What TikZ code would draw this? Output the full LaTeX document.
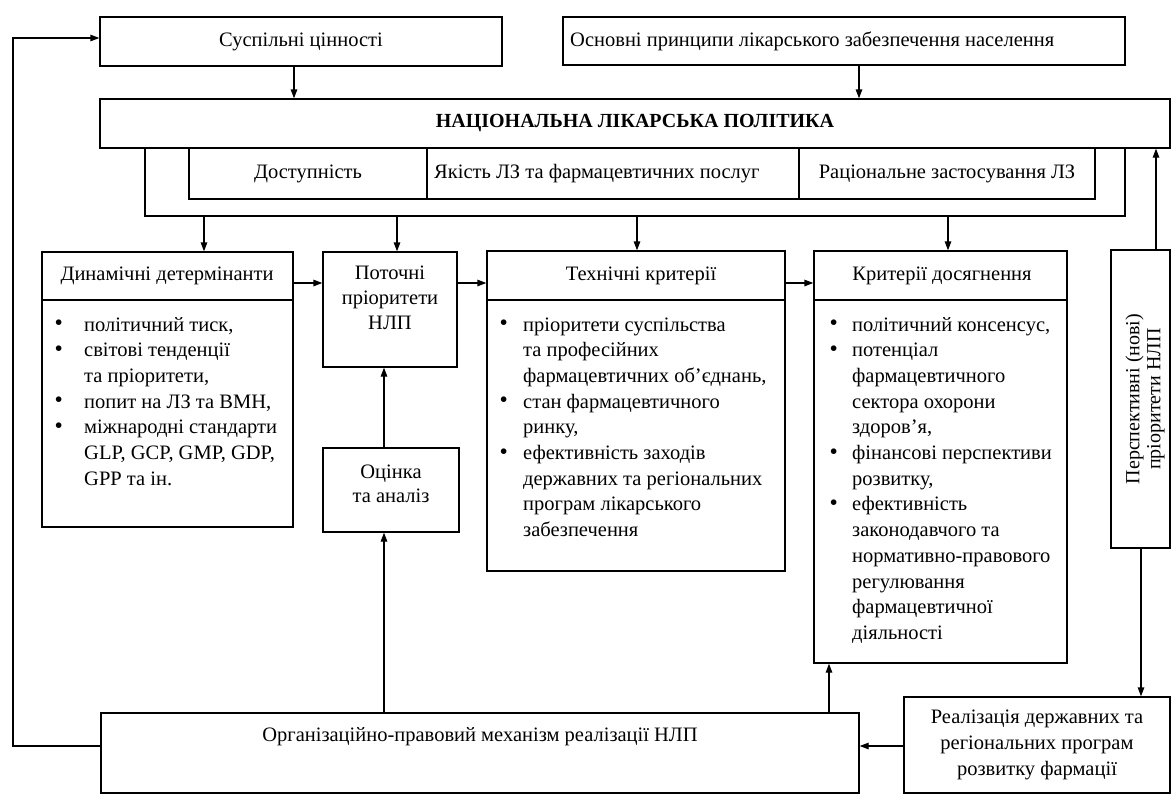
\documentclass[tikz,border=0pt]{standalone}
\usepackage{fontspec}
\setmainfont{Liberation Serif}
\usetikzlibrary{arrows.meta}
\newcommand{\bodyfs}{\fontsize{20.5pt}{25.7pt}\selectfont}
\newcommand{\bul}{\raisebox{0.5pt}{\scalebox{1.15}{\textbullet}}}
\begin{document}
\begin{tikzpicture}[x=1pt,y=-1pt,
  box/.style={draw, line width=1.3pt, rectangle, inner sep=0pt},
  ln/.style={line width=1.3pt},
  arr/.style={line width=1.3pt, -{Triangle[length=9pt,width=6.5pt]}},
  txt/.style={inner sep=0pt},
  font=\bodyfs]
\fill[white] (0,0) rectangle (1172,795);
\useasboundingbox (0,0) rectangle (1172,795);

% top boxes
\node[box, minimum width=402pt, minimum height=49pt] (sus) at (301,41.5) {Суспільні цінності};
\node[box, minimum width=562pt, minimum height=48pt] (osn) at (844,41) {};
\node[txt, anchor=west] (osnt) at (570,41) {Основні принципи лікарського забезпечення населення};
\node[box, minimum width=1070pt, minimum height=49pt] (nlp) at (635,123.5) {\fontsize{20pt}{24pt}\selectfont\bfseries НАЦІОНАЛЬНА ЛІКАРСЬКА ПОЛІТИКА};
\node[box, minimum width=238pt, minimum height=51pt] (dost) at (308,173.5) {Доступність};
\node[box, minimum width=372pt, minimum height=51pt] (yak) at (613,173.5) {};
\node[txt, anchor=west] (yakt) at (434,173.5) {Якість ЛЗ та фармацевтичних послуг};
\node[box, minimum width=296pt, minimum height=51pt] (rac) at (947,173.5) {Раціональне застосування ЛЗ};

% second row
\node[box, minimum width=251pt, minimum height=275pt] (dyn) at (167.5,389.5) {};
\node[box, minimum width=134pt, minimum height=115pt] (pot) at (390,309.5) {};
\node[box, minimum width=298pt, minimum height=320pt] (tech) at (636,411) {};
\node[box, minimum width=253pt, minimum height=412pt] (krit) at (940.5,457) {};
\node[box, minimum width=59pt, minimum height=298pt] (persp) at (1140.5,399) {};
\node[box, minimum width=136pt, minimum height=84pt] (ocin) at (391,490) {};

\coordinate (dv) at (0,300);
\draw[ln] (dyn.west |- dv) -- (dyn.east |- dv);
\draw[ln] (tech.west |- dv) -- (tech.east |- dv);
\draw[ln] (krit.west |- dv) -- (krit.east |- dv);

\node[txt] (dynh) at (167,276) {Динамічні детермінанти};
\node[txt] (techh) at (641,276) {Технічні критерії};
\node[txt] (krith) at (942,276) {Критерії досягнення};
\node[txt, align=center, font=\fontsize{20.5pt}{25pt}\selectfont] (pott) at (390,298) {Поточні\\пріоритети\\НЛП};
\node[txt, align=center, font=\fontsize{20.5pt}{24pt}\selectfont] (ocint) at (391,484) {Оцінка\\та аналіз};
\node[txt, rotate=90, align=center, font=\fontsize{20pt}{21pt}\selectfont] (perspt) at (1145,399) {Перспективні (нові)\\пріоритети НЛП};

\node[txt, anchor=base west] (dynl) at (54.5,331) {\begin{tabular}[t]{@{}p{29.5pt}@{}l@{}}
\bul & політичний тиск,\\
\bul & світові тенденції\\
 & та пріоритети,\\
\bul & попит на ЛЗ та ВМН,\\
\bul & міжнародні стандарти\\
 & GLP, GCP, GMP, GDP,\\
 & GPP та ін.
\end{tabular}};

\node[txt, anchor=base west] (techl) at (499.5,331) {\begin{tabular}[t]{@{}p{23.5pt}@{}l@{}}
\bul & пріоритети суспільства\\
 & та професійних\\
 & фармацевтичних об’єднань,\\
\bul & стан фармацевтичного\\
 & ринку,\\
\bul & ефективність заходів\\
 & державних та регіональних\\
 & програм лікарського\\
 & забезпечення
\end{tabular}};

\node[txt, anchor=base west] (kritl) at (829.5,331) {\begin{tabular}[t]{@{}p{22.5pt}@{}l@{}}
\bul & політичний консенсус,\\
\bul & потенціал\\
 & фармацевтичного\\
 & сектора охорони\\
 & здоров’я,\\
\bul & фінансові перспективи\\
 & розвитку,\\
\bul & ефективність\\
 & законодавчого та\\
 & нормативно-правового\\
 & регулювання\\
 & фармацевтичної\\
 & діяльності
\end{tabular}};

% bottom boxes
\node[box, minimum width=758pt, minimum height=80pt] (org) at (480,753) {};
\node[txt] (orgt) at (480,737) {Організаційно-правовий механізм реалізації НЛП};
\node[box, minimum width=266pt, minimum height=96pt, align=center, font=\fontsize{20.5pt}{26pt}\selectfont] (real) at (1037,745) {Реалізація державних та\\регіональних програм\\розвитку фармації};

% connector coordinates
\coordinate (xs) at (294,0);
\coordinate (xo) at (859,0);
\coordinate (bl) at (145,216);
\coordinate (br) at (1125,216);
\coordinate (a1) at (204,216);
\coordinate (a2) at (397,216);
\coordinate (a3) at (637,216);
\coordinate (a4) at (948,216);
\coordinate (hy) at (0,283);
\coordinate (ax) at (384,0);
\coordinate (kx) at (829,0);
\coordinate (ly) at (0,746);
\coordinate (fl) at (13,746);
\coordinate (ft) at (13,38);
\coordinate (px) at (1156,0);
\coordinate (qx) at (1141,0);

\draw[arr] (xs |- sus.south) -- (xs |- nlp.north);
\draw[arr] (xo |- osn.south) -- (xo |- nlp.north);
\draw[ln] (bl |- nlp.south) -- (bl) -- (br) -- (br |- nlp.south);
\draw[arr] (a1) -- (a1 |- dyn.north);
\draw[arr] (a2) -- (a2 |- pot.north);
\draw[arr] (a3) -- (a3 |- tech.north);
\draw[arr] (a4) -- (a4 |- krit.north);
\draw[arr] (dyn.east |- hy) -- (pot.west |- hy);
\draw[arr] (pot.east |- hy) -- (tech.west |- hy);
\draw[arr] (tech.east |- hy) -- (krit.west |- hy);
\draw[arr] (ax |- ocin.north) -- (ax |- pot.south);
\draw[arr] (ax |- org.north) -- (ax |- ocin.south);
\draw[arr] (kx |- org.north) -- (kx |- krit.south);
\draw[arr] (real.west |- ly) -- (org.east |- ly);
\draw[arr] (org.west |- ly) -- (fl) -- (ft) -- (sus.west |- ft);
\draw[arr] (px |- persp.north) -- (px |- nlp.south);
\draw[arr] (qx |- persp.south) -- (qx |- real.north);
\end{tikzpicture}
\end{document}
